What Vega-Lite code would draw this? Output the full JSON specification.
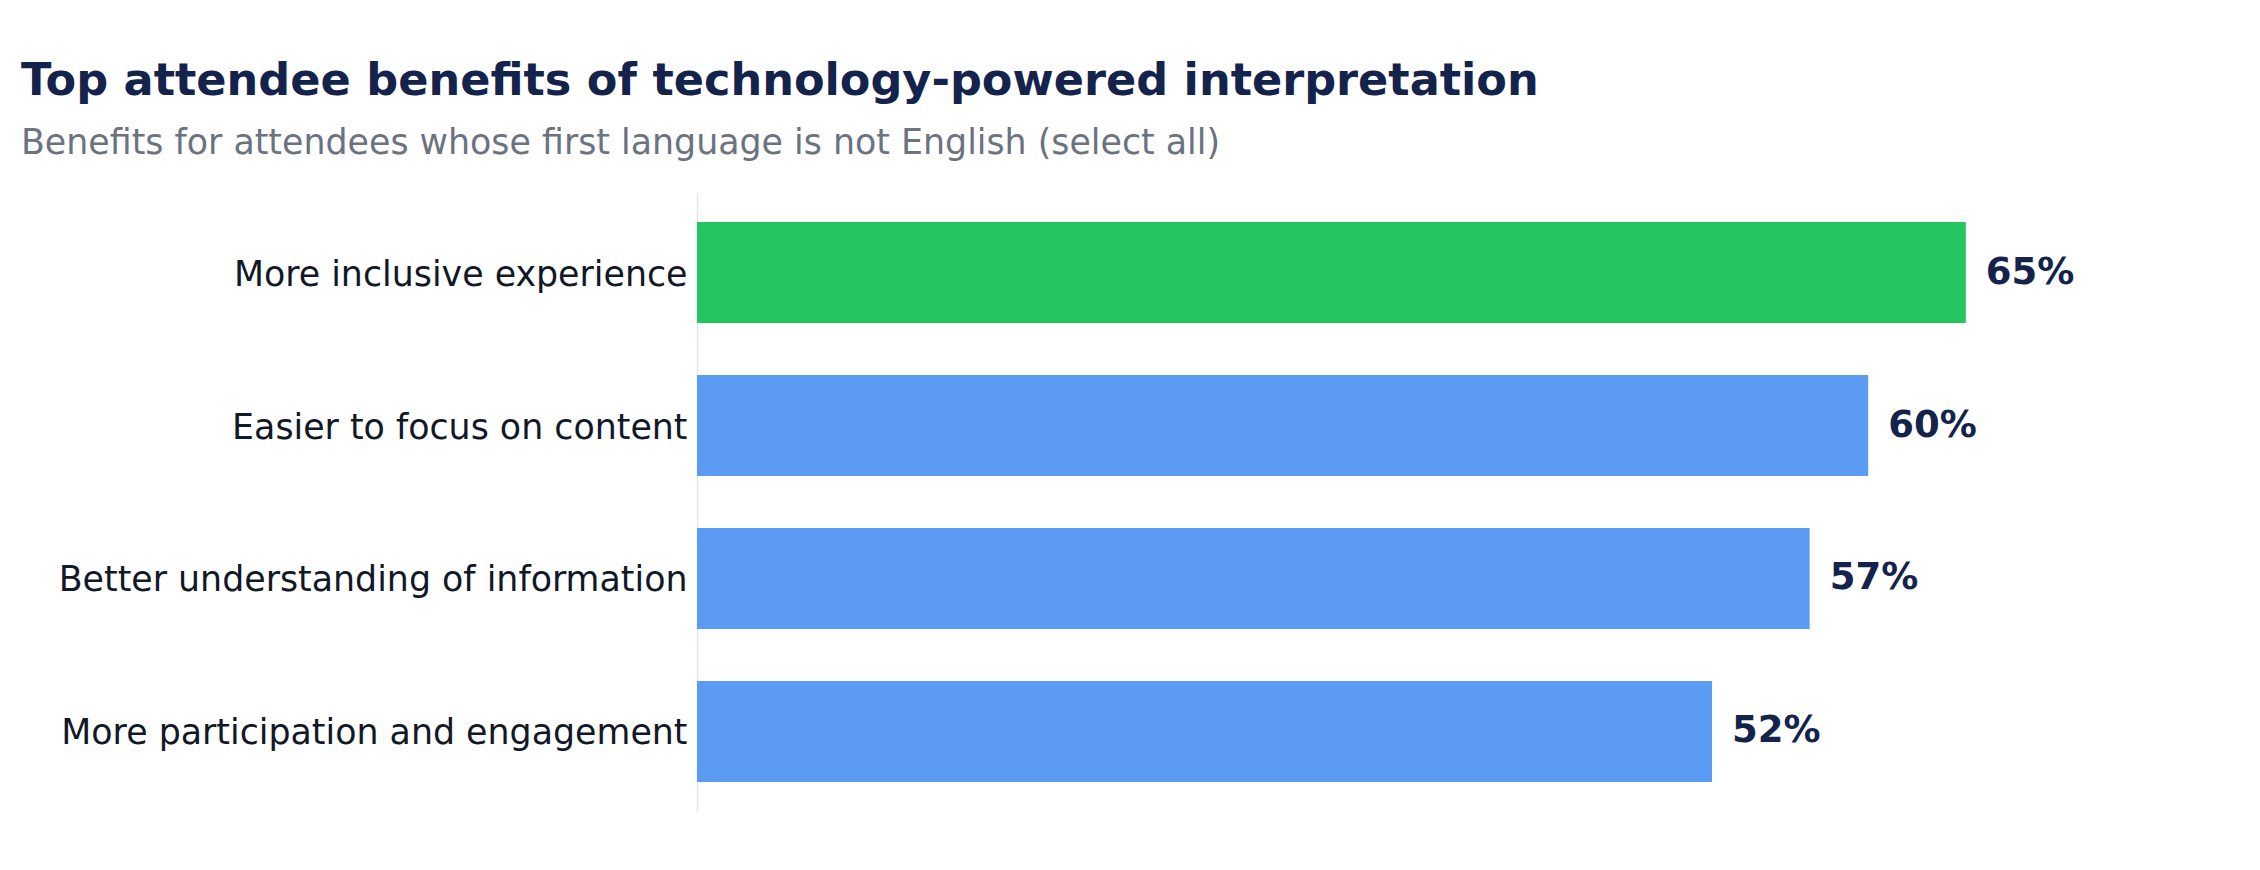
{
  "$schema": "https://vega.github.io/schema/vega-lite/v6.json",
  "width": 1464,
  "height": 618,
  "padding": {"left": 21, "top": 58, "right": 10, "bottom": 10},
  "background": "white",
  "title": {
    "text": "Top attendee benefits of technology-powered interpretation",
    "subtitle": "Benefits for attendees whose first language is not English (select all)",
    "anchor": "start",
    "frame": "group",
    "dx": -676,
    "font": "DejaVu Sans",
    "fontSize": 44.6,
    "fontWeight": "bold",
    "color": "#13234b",
    "subtitleFont": "DejaVu Sans",
    "subtitleFontSize": 34.8,
    "subtitleColor": "#6b7280",
    "subtitlePadding": 23,
    "offset": 31
  },
  "data": {
    "values": [
      {"benefit": "More inclusive experience", "pct": 0.65},
      {"benefit": "Easier to focus on content", "pct": 0.60},
      {"benefit": "Better understanding of information", "pct": 0.57},
      {"benefit": "More participation and engagement", "pct": 0.52}
    ]
  },
  "encoding": {
    "y": {
      "field": "benefit",
      "type": "nominal",
      "sort": null,
      "scale": {"paddingInner": 0.34, "paddingOuter": 0.19},
      "axis": {
        "title": null,
        "ticks": false,
        "domain": true,
        "domainColor": "#e5e7eb",
        "domainWidth": 1.5,
        "labelFont": "DejaVu Sans",
        "labelFontSize": 34.8,
        "labelColor": "#111827",
        "labelPadding": 10,
        "labelOffset": 3,
        "labelLimit": 800,
        "minExtent": 676,
        "maxExtent": 676
      }
    },
    "x": {
      "field": "pct",
      "type": "quantitative",
      "scale": {"domain": [0, 0.75]},
      "axis": null
    }
  },
  "layer": [
    {
      "mark": {"type": "bar"},
      "encoding": {
        "color": {
          "condition": {"test": "datum.benefit === 'More inclusive experience'", "value": "#22c55e"},
          "value": "#5b9bf4"
        }
      }
    },
    {
      "mark": {
        "type": "text",
        "align": "left",
        "baseline": "middle",
        "dx": 20,
        "font": "DejaVu Sans",
        "fontSize": 37,
        "fontWeight": "bold",
        "color": "#13234b"
      },
      "encoding": {
        "text": {"field": "pct", "type": "quantitative", "format": ".0%"}
      }
    }
  ],
  "config": {
    "view": {"stroke": null},
    "axis": {"grid": false}
  }
}
